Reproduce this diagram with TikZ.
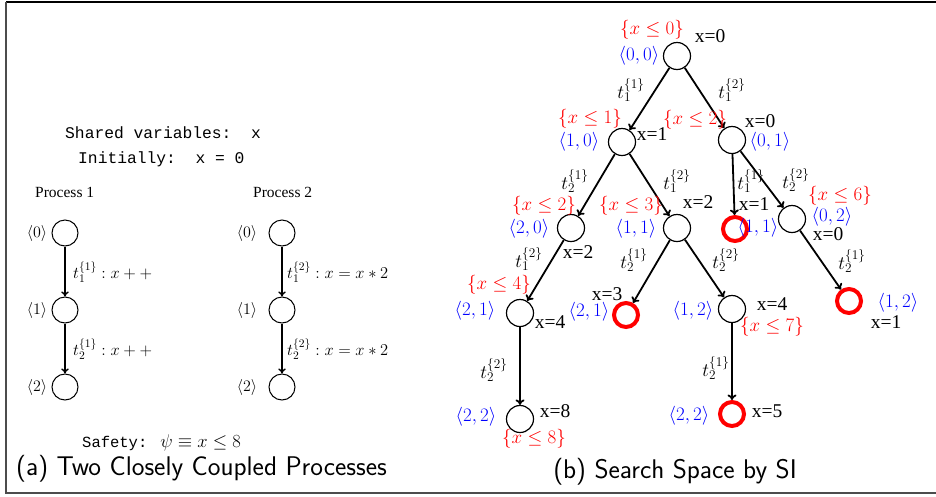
\RequirePackage{fix-cm}
\documentclass[tikz,border=0pt]{standalone}
\usepackage[no-math]{fontspec}
\newfontfamily\serifT{Liberation Serif}
\newfontfamily\monoT{Liberation Mono}
\usetikzlibrary{arrows.meta}
\begin{document}
\begin{tikzpicture}[x=1pt,y=-1pt,
  st/.style={circle,draw,line width=1.2pt,minimum size=27pt,inner sep=0pt},
  bad/.style={circle,draw=red,line width=4pt,minimum size=24pt,inner sep=0pt},
  pst/.style={circle,draw,line width=1pt,minimum size=26pt,inner sep=0pt},
  arr/.style={-{To[length=5.5pt,width=9pt]},line width=1.8pt},
  parr/.style={-{To[length=5pt,width=7.5pt]},line width=1.4pt},
  tf/.style={font=\fontsize{19}{22}\selectfont,inner sep=0pt},
  rl/.style={tf,text=red},
  bl/.style={tf,text=blue},
  xl/.style={font=\fontsize{19.5}{22}\selectfont\serifT,inner sep=0pt},
  el/.style={tf},
  pl/.style={font=\fontsize{16}{18}\selectfont,inner sep=0pt},
  pel/.style={font=\fontsize{16.5}{19}\selectfont,inner sep=0pt,anchor=west},
  mono/.style={font=\fontsize{16.3}{19}\selectfont\monoT,inner sep=0pt,anchor=base west},
  ttl/.style={font=\fontsize{15.5}{18}\selectfont\serifT,inner sep=0pt,anchor=base west},
  captxt/.style={font=\fontsize{27}{30}\selectfont\sffamily,inner sep=0pt,anchor=base}]
\useasboundingbox (0,0) rectangle (936,496);
% frame
\draw[line width=1.5pt] (6,2) -- (936,2);
\draw[line width=2pt,black!70] (6,2) -- (6,493) -- (936,493);

% ---------- left panel ----------
\node[mono] (shared) at (65,138) {Shared variables:\ \ x};
\node[mono] (init) at (78,163) {Initially:\ \ x = 0};
\node[ttl] (pt1) at (35,197) {Process 1};
\node[ttl] (pt2) at (253,197) {Process 2};

\node[pst] (p10) at (65,233) {};
\node[pst] (p11) at (65,310) {};
\node[pst] (p12) at (65,387) {};
\node[pst] (p20) at (282,233) {};
\node[pst] (p21) at (282,310) {};
\node[pst] (p22) at (282,387) {};
\draw[parr] (p10) -- (p11);
\draw[parr] (p11) -- (p12);
\draw[parr] (p20) -- (p21);
\draw[parr] (p21) -- (p22);
\node[pl] (lp10) at (37,233) {$\langle 0\rangle$};
\node[pl] (lp11) at (37,310) {$\langle 1\rangle$};
\node[pl] (lp12) at (37,387) {$\langle 2\rangle$};
\node[pl] (lp20) at (247,233) {$\langle 0\rangle$};
\node[pl] (lp21) at (247,310) {$\langle 1\rangle$};
\node[pl] (lp22) at (247,387) {$\langle 2\rangle$};
\node[pel] (e1a) at (73,272) {$t_1^{\{1\}}: x++$};
\node[pel] (e1b) at (73,349) {$t_2^{\{1\}}: x++$};
\node[pel] (e2a) at (287,272) {$t_1^{\{2\}}: x = x*2$};
\node[pel] (e2b) at (287,349) {$t_2^{\{2\}}: x = x*2$};
\node[mono,font=\fontsize{15.5}{18}\selectfont\monoT] (safe) at (82,447) {Safety:\hspace{13pt}\fontsize{18.5}{20}\selectfont$\psi\equiv x\leq 8$};
\node[captxt] (capa) at (201.5,475) {(a) Two Closely Coupled Processes};

% ---------- right panel ----------
\node[st] (r) at (677,56) {};
\node[st] (a) at (622,142) {};
\node[st] (b) at (732,140) {};
\node[st] (c) at (571,228) {};
\node[st] (d) at (677,228) {};
\node[bad] (e) at (735,229) {};
\node[st] (f) at (792,219) {};
\node[st] (g) at (520,313) {};
\node[bad] (h) at (626,315) {};
\node[st] (i) at (732,309) {};
\node[bad] (j) at (849,301) {};
\node[st] (k) at (520,419) {};
\node[bad] (l) at (732,414) {};

\draw[arr] (r) -- (a);
\draw[arr] (r) -- (b);
\draw[arr] (a) -- (c);
\draw[arr] (a) -- (d);
\draw[arr] (b) -- (e);
\draw[arr] (b) -- (f);
\draw[arr] (c) -- (g);
\draw[arr] (d) -- (h);
\draw[arr] (d) -- (i);
\draw[arr] (f) -- (j);
\draw[arr] (g) -- (k);
\draw[arr] (i) -- (l);

% edge labels
\node[el] (t1) at (631,90) {$t_1^{\{1\}}$};
\node[el] (t2) at (732,90) {$t_1^{\{2\}}$};
\node[el] (t3) at (575,181) {$t_2^{\{1\}}$};
\node[el] (t4) at (677,181) {$t_1^{\{2\}}$};
\node[el] (t5) at (751,181) {$t_1^{\{1\}}$};
\node[el] (t6) at (796,180) {$t_2^{\{2\}}$};
\node[el] (t7) at (529,259) {$t_1^{\{2\}}$};
\node[el] (t8) at (634,260) {$t_2^{\{1\}}$};
\node[el] (t9) at (726,260) {$t_2^{\{2\}}$};
\node[el] (t10) at (852,261) {$t_2^{\{1\}}$};
\node[el] (t11) at (494,370) {$t_2^{\{2\}}$};
\node[el] (t12) at (716,368) {$t_2^{\{1\}}$};

% node labels
\node[rl] (rr) at (652,30) {$\{x\leq 0\}$};
\node[bl] (rb) at (639,56) {$\langle 0,0\rangle$};
\node[xl] (rx) at (710,36) {x=0};

\node[rl] (ar) at (590,119) {$\{x\leq 1\}$};
\node[bl] (ab) at (579,142) {$\langle 1,0\rangle$};
\node[xl] (ax) at (652,134) {x=1};

\node[rl] (br) at (695,120) {$\{x\leq 2\}$};
\node[xl] (bx) at (760,121) {x=0};
\node[bl] (bb) at (770,142) {$\langle 0,1\rangle$};

\node[rl] (cr) at (544,206) {$\{x\leq 2\}$};
\node[bl] (cb) at (529,229) {$\langle 2,0\rangle$};
\node[xl] (cx) at (578,252) {x=2};

\node[rl] (dr) at (631,206) {$\{x\leq 3\}$};
\node[bl] (db) at (636,229) {$\langle 1,1\rangle$};
\node[xl] (dx) at (698,202) {x=2};

\node[xl] (ex) at (754,204) {x=1};
\node[bl] (eb) at (758,228) {$\langle 1,1\rangle$};

\node[rl] (fr) at (840,196) {$\{x\leq 6\}$};
\node[bl] (fb) at (832,217) {$\langle 0,2\rangle$};
\node[xl] (fx) at (828,234) {x=0};

\node[rl] (gr) at (499,285) {$\{x\leq 4\}$};
\node[bl] (gb) at (475,311) {$\langle 2,1\rangle$};
\node[xl] (gx) at (550,322) {x=4};

\node[xl] (hx) at (607,294) {x=3};
\node[bl] (hb) at (589,312) {$\langle 2,1\rangle$};

\node[bl] (ib) at (693,311) {$\langle 1,2\rangle$};
\node[xl] (ix) at (772,304) {x=4};
\node[rl] (ir) at (772,327) {$\{x\leq 7\}$};

\node[bl] (jb) at (898,303) {$\langle 1,2\rangle$};
\node[xl] (jx) at (886,322) {x=1};

\node[bl] (kb) at (476,417) {$\langle 2,2\rangle$};
\node[xl] (kx) at (555,411) {x=8};
\node[rl] (kr) at (534,439) {$\{x\leq 8\}$};

\node[bl] (lb) at (689,416) {$\langle 2,2\rangle$};
\node[xl] (lx) at (767,411) {x=5};

\node[captxt] (capb) at (675,478) {(b) Search Space by SI};
\end{tikzpicture}
\end{document}
